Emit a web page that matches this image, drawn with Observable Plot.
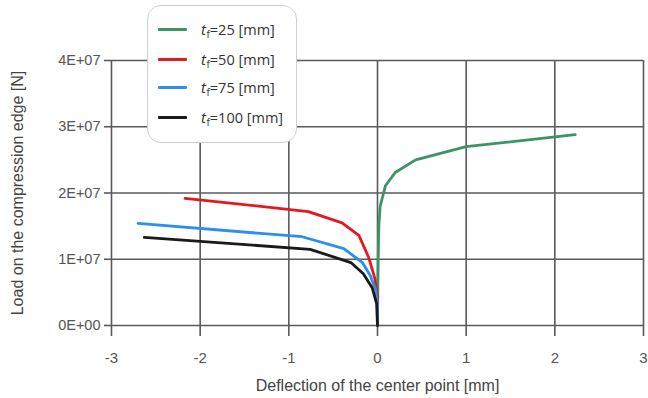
<!DOCTYPE html>
<html>
<head>
<meta charset="utf-8">
<script src="https://cdn.jsdelivr.net/npm/d3@7"></script>
<script src="https://cdn.jsdelivr.net/npm/@observablehq/plot@0.6"></script>
<style>
  html, body { margin: 0; padding: 0; background: #fff; }
  #wrap { position: relative; width: 648px; height: 398px; }
  #legend {
    position: absolute; left: 147px; top: 5px; width: 150px; height: 138px;
    box-sizing: border-box; background: #fff; border: 1px solid #cfcfcf; border-radius: 14px;
    font-family: "Open Sans", sans-serif; font-size: 14.5px; color: #333;
  }
  .row { position: absolute; left: 10px; display: flex; align-items: baseline; height: 22px; line-height: 22px; white-space: nowrap; }
  .sw { width: 29px; height: 3px; border-radius: 1px; margin-right: 14px; align-self: center; }
  .row i { font-style: italic; font-size: 15px; }
  .row sub { font-size: 10px; position: relative; top: 3px; vertical-align: baseline; margin-left: 0.5px; }
</style>
</head>
<body>
<div id="wrap">
  <div id="chart"></div>
  <div id="legend"></div>
</div>
<script>
// Load–deflection curves of the center point for four flange thicknesses
const flangeThickness = [25, 50, 75, 100];
const seriesColors = ["#3a9565", "#e3191f", "#2a8ff0", "#1a1a1a"];

const defl25 = [0, 0.003, 0.008, 0.015, 0.03, 0.09, 0.2, 0.43, 1.0, 2.23];
const load25 = [0, 0.5e7, 1.0e7, 1.5e7, 1.8e7, 2.11e7, 2.31e7, 2.5e7, 2.7e7, 2.88e7];

const defl50 = [-2.17, -0.78, -0.4, -0.21, -0.1, -0.03, 0, 0];
const load50 = [1.92e7, 1.72e7, 1.55e7, 1.36e7, 1.03e7, 0.71e7, 0.45e7, 0];

const defl75 = [-2.7, -0.85, -0.38, -0.17, -0.08, -0.02, 0, 0];
const load75 = [1.54e7, 1.34e7, 1.16e7, 0.95e7, 0.75e7, 0.53e7, 0.3e7, 0];

const defl100 = [-2.63, -0.76, -0.3, -0.16, -0.06, -0.01, 0];
const load100 = [1.33e7, 1.15e7, 0.95e7, 0.78e7, 0.57e7, 0.33e7, 0];

const xTicks = [-3, -2, -1, 0, 1, 2, 3];
const xTickLabels = ["-3", "-2", "-1", "0", "1", "2", "3"];
const yTicks = [0, 1e7, 2e7, 3e7, 4e7];
const yTickLabels = ["0E+00", "1E+07", "2E+07", "3E+07", "4E+07"];

const curves = [[defl25, load25], [defl50, load50], [defl75, load75], [defl100, load100]];
const rows = curves.flatMap(([xs, ys], k) =>
  xs.map((x, i) => ({x, y: ys[i], tf: flangeThickness[k]})));

const gridColor = "#5a5a5a";
const textColor = "#555";

const chart = Plot.plot({
  width: 648,
  height: 398,
  marginLeft: 111,
  marginRight: 5,
  marginTop: 60,
  marginBottom: 73,
  style: {fontFamily: "'Liberation Sans', Arial, sans-serif", fontSize: "15px", color: textColor, background: "#fff", overflow: "visible"},
  x: {type: "linear", domain: [-3, 3]},
  y: {type: "linear", domain: [0, 4e7]},
  color: {domain: flangeThickness, range: seriesColors},
  marks: [
    Plot.gridX(xTicks, {stroke: gridColor, strokeOpacity: 1, strokeWidth: 1.6}),
    Plot.gridY(yTicks, {stroke: gridColor, strokeOpacity: 1, strokeWidth: 1.6}),
    // tick marks only; labels are drawn below as text marks
    Plot.axisX({ticks: xTicks, tickSize: 11, stroke: gridColor, strokeWidth: 1.6, tickFormat: () => "", label: null}),
    Plot.axisY({ticks: yTicks, tickSize: 7, stroke: gridColor, strokeWidth: 1.6, tickFormat: () => "", label: null}),
    // tick labels
    Plot.text(xTicks, {x: (d) => d, frameAnchor: "bottom", dy: 37, text: (d, i) => xTickLabels[i],
      fontSize: 15, fill: textColor}),
    Plot.text(yTicks, {y: (d) => d, frameAnchor: "left", dx: -11, textAnchor: "end", text: (d, i) => yTickLabels[i],
      fontSize: 14.5, fill: textColor}),
    // axis titles
    Plot.text(["Deflection of the center point [mm]"], {
      frameAnchor: "bottom", dy: 65, text: (d) => d, fontSize: 16, fill: "#444"}),
    Plot.text(["Load on the compression edge [N]"], {
      frameAnchor: "left", dx: -94, rotate: -90, textAnchor: "middle", text: (d) => d, fontSize: 16, fill: "#444"}),
    Plot.line(rows, {x: "x", y: "y", z: "tf", stroke: "tf", strokeWidth: 2.8, curve: "linear"})
  ]
});
document.getElementById("chart").appendChild(chart);

// Legend box
const legend = document.getElementById("legend");
const rowTops = [12, 42, 70, 100];
flangeThickness.forEach((t, i) => {
  const r = document.createElement("div");
  r.className = "row";
  r.style.top = rowTops[i] + "px";
  r.innerHTML = `<span class="sw" style="background:${seriesColors[i]}"></span><i>t</i><sub>f</sub><span>=${t} [mm]</span>`;
  legend.appendChild(r);
});
</script>
</body>
</html>
